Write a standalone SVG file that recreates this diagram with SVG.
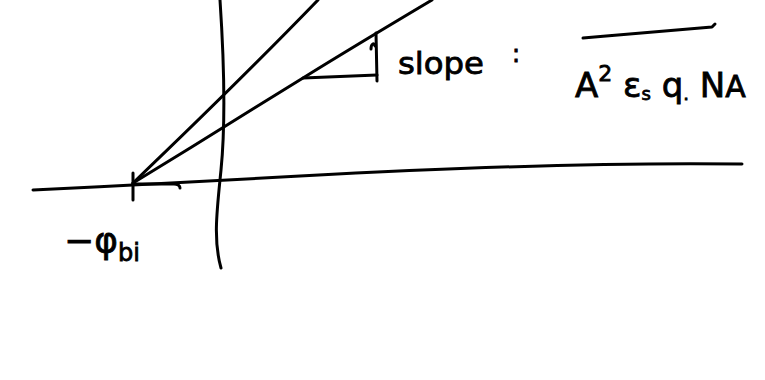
<svg xmlns="http://www.w3.org/2000/svg" width="765" height="380" viewBox="0 0 765 380">
<style>
.s{fill:none;stroke:#000;stroke-width:3;stroke-linecap:round;stroke-linejoin:round}
.t{font-family:"DejaVu Sans","Liberation Sans",sans-serif;fill:#000;stroke:#000;stroke-width:0.8}
</style>
<rect width="765" height="380" fill="#fff"/>
<g id="axes">
<path class="s" d="M33,190 C120,186 200,182 300,176 C450,168 600,162 742,164"/>
<path class="s" d="M220,0 C224,60 226,120 221,170 C217,210 213,240 221,268"/>
</g>
<g id="lines">
<path class="s" d="M133,183 C180,138 260,60 318,0"/>
<path class="s" d="M133,183 C190,148 260,105 303,78 C340,55 390,25 432,0"/>
<path class="s" d="M303,78 L377,75"/>
<path class="s" d="M376,33 L377,81"/>
<path class="s" d="M371,49 C371,44 374,42 375,46"/>
<path class="s" d="M133,173 L133,200"/>
<path class="s" d="M133,184 L174,184 C178,184 180,186 180,188"/>
<path class="s" d="M583,38 C630,34 680,30 712,27 L715,24"/>
</g>
<g id="labels">
<text class="t" x="398" y="74" font-size="30" textLength="86" lengthAdjust="spacingAndGlyphs">slope</text>
<text class="t" x="512" y="62" font-size="24">:</text>
<text class="t" x="575" y="97" font-size="34">A<tspan font-size="22" dy="-16">2</tspan><tspan dy="16"> ε</tspan><tspan font-size="18" dy="3">s</tspan><tspan dy="-3"> q</tspan><tspan font-size="18" dy="3">.</tspan><tspan dy="-3"> N</tspan><tspan font-size="30">A</tspan></text>
<text class="t" x="64" y="253" font-size="36">−φ<tspan font-size="24" dy="8">bi</tspan></text>
</g>
</svg>
